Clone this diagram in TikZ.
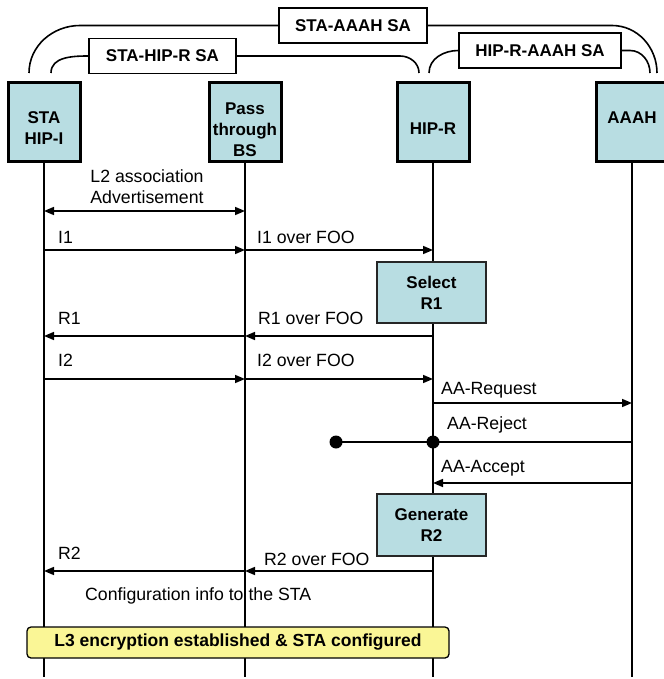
\documentclass[tikz,border=0pt]{standalone}
\usepackage{fontspec}
\setmainfont{Liberation Sans}
\usetikzlibrary{arrows.meta}
\definecolor{boxblue}{RGB}{184,221,226}
\definecolor{boxyellow}{RGB}{250,246,150}
\begin{document}
\begin{tikzpicture}[x=1pt,y=-1pt,
  every node/.style={font=\fontsize{17.7}{21}\selectfont},
  head/.style={draw=black, line width=3pt, fill=boxblue, minimum width=72pt, minimum height=79pt,
    font=\fontsize{17}{21}\selectfont\bfseries, align=center, inner sep=0pt},
  proc/.style={draw=black!85, line width=1.5pt, fill=boxblue, minimum width=109pt, minimum height=61pt,
    font=\fontsize{17}{21}\selectfont\bfseries, align=center, inner sep=0pt},
  salabel/.style={draw=black, line width=1.3pt, fill=white, minimum height=35pt, inner sep=0pt,
    font=\fontsize{17}{21}\selectfont\bfseries},
  arcline/.style={line width=1.6pt},
  life/.style={line width=2.5pt},
  tip/.tip={Triangle[length=10pt,width=8pt]},
  msg/.style={line width=1.6pt, -tip},
  plain/.style={line width=1.6pt},
  lbl/.style={anchor=west, inner sep=0pt},
]
\useasboundingbox (0,0) rectangle (663,679);
\fill[white] (0,0) rectangle (663,679);

% security association labels
\node[salabel, minimum width=148pt] (saA) at (353,25.5) {STA-AAAH SA};
\node[salabel, minimum width=147pt] (saB) at (162.5,56) {STA-HIP-R SA};
\node[salabel, minimum width=162pt] (saC) at (540,50.5) {HIP-R-AAAH SA};

\draw[arcline] (29,73) to[out=90,in=180] (80,25.5) -- (saA.west);
\draw[arcline] (saA.east) -- (612,25.5) to[out=0,in=90] (657,73);
\draw[arcline] (51,73) to[out=90,in=180] (saB.west);
\draw[arcline] (saB.east) -- (400,56) to[out=0,in=90] (419,73);
\draw[arcline] (429,73) to[out=90,in=180] (saC.west);
\draw[arcline] (saC.east) -- (630,50.5) to[out=0,in=90] (650,73);

% lifeline heads
\node[head] (sta) at (44,122.5) {\rule{0pt}{24pt}STA\\HIP-I};
\node[head] (bs) at (245,122.5) {\rule{0pt}{27pt}Pass\\through\\BS};
\node[head] (hipr) at (433,122.5) {\rule{0pt}{24pt}HIP-R};
\node[head] (aaah) at (632,122.5) {\rule[-9pt]{0pt}{9pt}AAAH};

\coordinate (staEnd) at (44,677);
\coordinate (bsEnd) at (245,677);
\coordinate (hiprEnd) at (433,677);
\coordinate (aaahEnd) at (632,677);
\draw[life] (sta.south) -- (staEnd);
\draw[life] (bs.south) -- (bsEnd);
\draw[life] (hipr.south) -- (hiprEnd);
\draw[life] (aaah.south) -- (aaahEnd);

% L2 association
\draw[plain, tip-tip] (sta |- 0,211) -- (bs |- 0,211);
\node[align=center, inner sep=0pt] (l2) at (147,187) {L2 association\\Advertisement};

% I1
\draw[msg] (sta |- 0,250) -- (bs |- 0,250);
\draw[msg] (bs |- 0,250) -- (hipr |- 0,250);
\node[lbl] (i1) at (58,237) {I1};
\node[lbl] (i1f) at (257,237) {I1 over FOO};

% Select R1
\node[proc] (sel) at (431.5,292.5) {Select\\R1};

% R1
\draw[msg] (hipr |- 0,336) -- (bs |- 0,336);
\draw[msg] (bs |- 0,336) -- (sta |- 0,336);
\node[lbl] (r1) at (58,318) {R1};
\node[lbl] (r1f) at (258,318) {R1 over FOO};

% I2
\draw[msg] (sta |- 0,379) -- (bs |- 0,379);
\draw[msg] (bs |- 0,379) -- (hipr |- 0,379);
\node[lbl] (i2) at (58,360) {I2};
\node[lbl] (i2f) at (257,360) {I2 over FOO};

% AA exchange
\draw[msg] (hipr |- 0,403) -- (aaah |- 0,403);
\node[lbl] (aareq) at (441,390) {AA-Request};

\coordinate (rejEnd) at (336,442);
\draw[plain] (aaah |- 0,442) -- (rejEnd);
\fill (rejEnd) circle (6.5pt);
\fill (hipr |- 0,442) circle (6.5pt);
\node[lbl] (aarej) at (447,425) {AA-Reject};

\draw[msg] (aaah |- 0,483) -- (hipr |- 0,483);
\node[lbl] (aaacc) at (441,468) {AA-Accept};

% Generate R2
\node[proc, minimum height=62pt] (gen) at (431.5,525) {Generate\\R2};

% R2
\draw[msg] (hipr |- 0,571) -- (bs |- 0,571);
\draw[msg] (bs |- 0,571) -- (sta |- 0,571);
\node[lbl] (r2) at (58,553) {R2};
\node[lbl] (r2f) at (264,559) {R2 over FOO};

\node[lbl] (conf) at (85,596) {Configuration info to the STA};

% final state
\node[draw=black, line width=1.3pt, fill=boxyellow, rounded corners=4pt, minimum width=422pt,
  minimum height=31pt, inner sep=0pt, font=\fontsize{17.5}{21}\selectfont\bfseries] (done) at (238,642.5)
  {L3 encryption established \& STA configured};
\end{tikzpicture}
\end{document}
